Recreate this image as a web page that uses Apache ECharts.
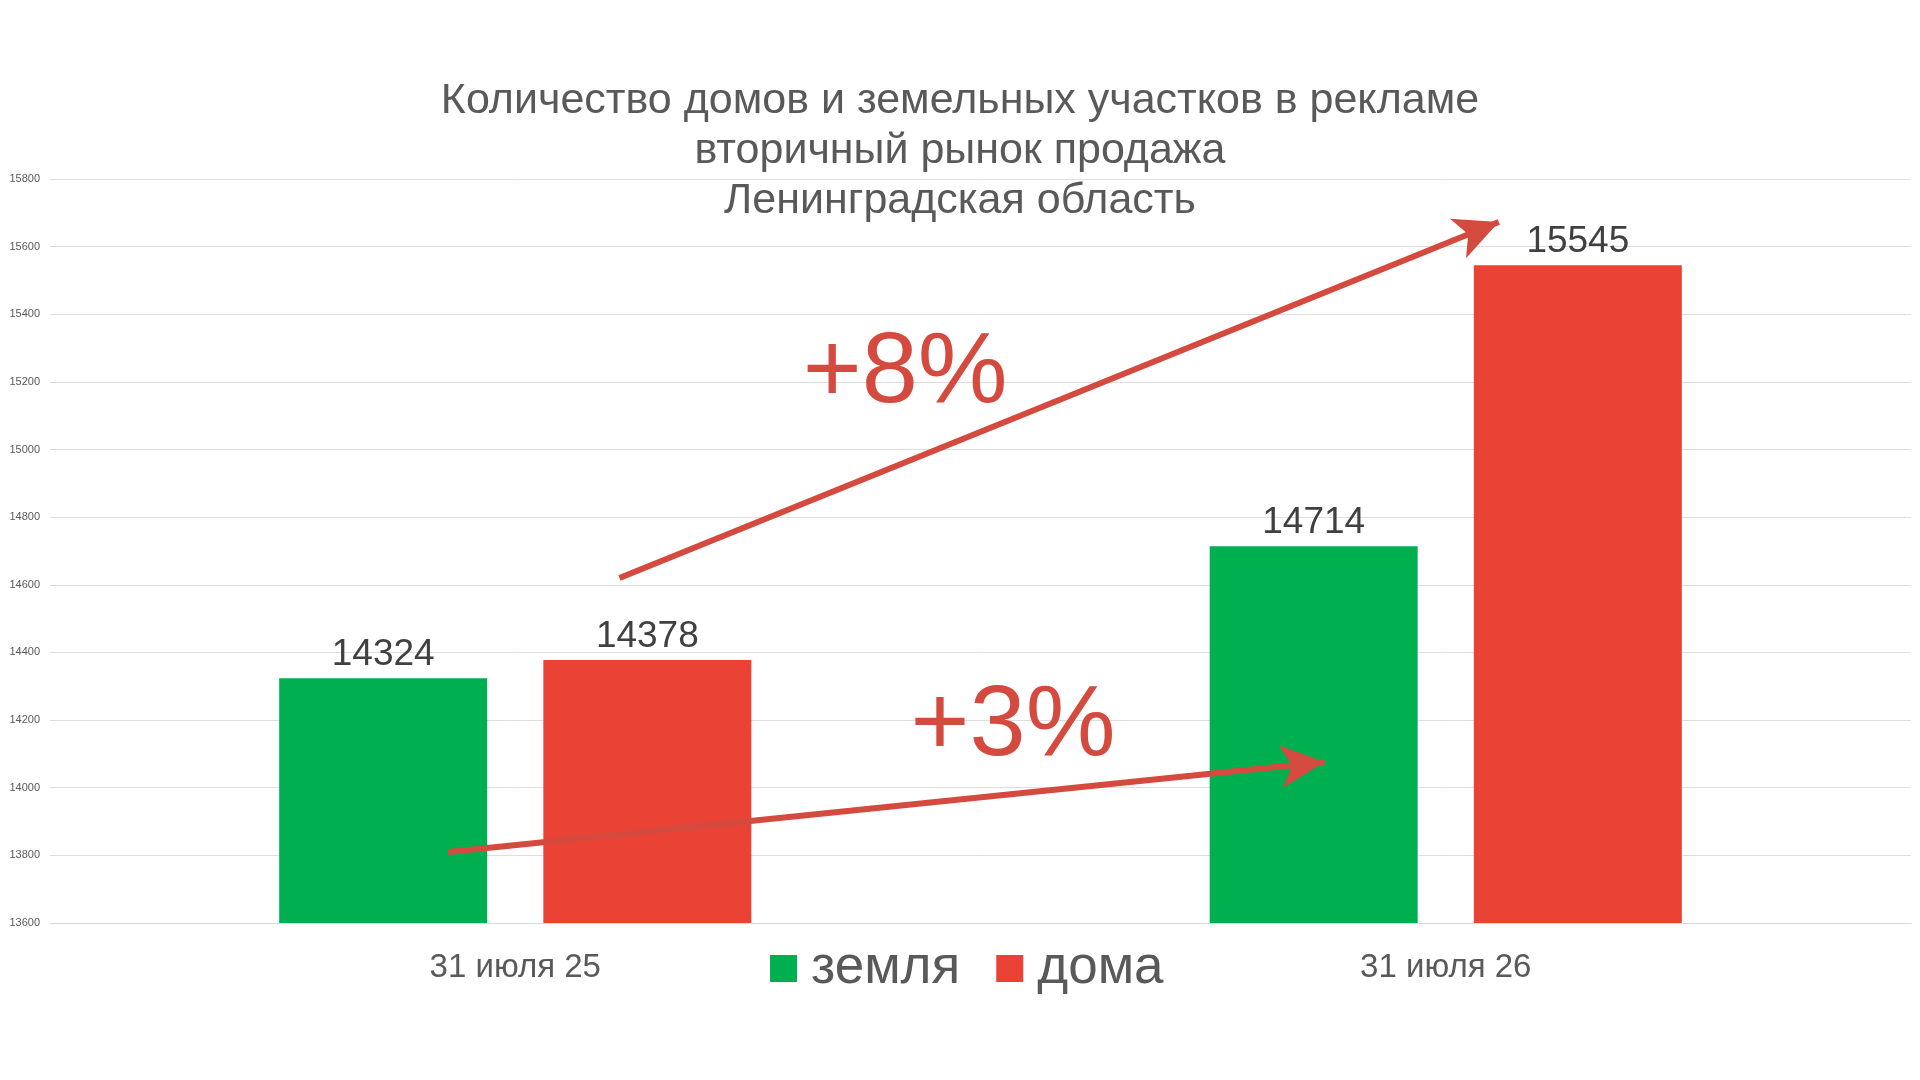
<!DOCTYPE html>
<html>
<head>
<meta charset="utf-8">
<script src="https://cdn.jsdelivr.net/npm/echarts@6/dist/echarts.min.js"></script>
<style>
html,body{margin:0;padding:0;background:#fff;}
#chart{width:1920px;height:1080px;}
</style>
</head>
<body>
<div id="chart"></div>
<script>
// ---- data ----
const titleLines = ['Количество домов и земельных участков в рекламе', 'вторичный рынок продажа', 'Ленинградская область'];
const categories = ['31 июля 25', '31 июля 26'];
const seriesNames = ['земля', 'дома'];
const landValues = [14324, 14714];
const houseValues = [14378, 15545];
const yMin = 13600, yMax = 15800, yStep = 200;
// annotation arrows in data coordinates: [categoryPosition, value]
const arrowHouses = [[0.112, 14620], [1.057, 15673]];
const arrowLand = [[-0.072, 13810], [0.870, 14076]];
const growthLabels = [
  { name: '+8%', coord: [0.419, 15222] },
  { name: '+3%', coord: [0.535, 14180] }
];

const FONT = 'Liberation Sans, Arial, sans-serif';
const GREY = '#595959';
const ARROW = '#d54a3e';

const chart = echarts.init(document.getElementById('chart'), null, { renderer: 'canvas' });
chart.setOption({
  animation: false,
  backgroundColor: '#ffffff',
  textStyle: { fontFamily: FONT },
  title: {
    text: titleLines.join('\n'),
    left: 'center',
    top: 71,
    textStyle: { fontFamily: FONT, fontSize: 43, fontWeight: 'normal', color: GREY, lineHeight: 50 }
  },
  legend: {
    data: seriesNames,
    left: 765,
    top: 937,
    icon: 'rect',
    itemWidth: 27,
    itemHeight: 27,
    itemGap: 36,
    textStyle: { fontFamily: FONT, fontSize: 53, color: GREY, padding: [0, 0, 0, 9] }
  },
  grid: { left: 50, right: 9, top: 179, bottom: 157, containLabel: false },
  xAxis: [
    {
      type: 'category',
      data: categories,
      axisLine: { lineStyle: { color: '#d9d9d9', width: 1 } },
      axisTick: { show: false },
      axisLabel: { fontFamily: FONT, fontSize: 33, color: GREY, margin: 28 }
    },
    { type: 'value', min: -0.5, max: 1.5, show: false }
  ],
  yAxis: {
    type: 'value',
    min: yMin,
    max: yMax,
    interval: yStep,
    axisLine: { show: false },
    axisTick: { show: false },
    axisLabel: { fontFamily: FONT, fontSize: 11, color: GREY, margin: 10, formatter: function (v) { return String(v); } },
    splitLine: { lineStyle: { color: '#dedede', width: 1 } }
  },
  series: [
    {
      name: seriesNames[0],
      type: 'bar',
      data: landValues,
      barWidth: 208,
      barGap: '27%',
      itemStyle: { color: '#00b050' },
      label: { show: true, position: 'top', distance: 5, fontFamily: FONT, fontSize: 37, color: '#404040' }
    },
    {
      name: seriesNames[1],
      type: 'bar',
      data: houseValues,
      barWidth: 208,
      barGap: '27%',
      itemStyle: { color: '#ea4335' },
      label: { show: true, position: 'top', distance: 5, fontFamily: FONT, fontSize: 37, color: '#404040' }
    },
    {
      name: 'annotations',
      type: 'line',
      xAxisIndex: 1,
      data: [],
      silent: true,
      markLine: {
        silent: true,
        symbol: ['none', 'arrow'],
        symbolSize: [32, 44],
        label: { show: false },
        lineStyle: { color: ARROW, width: 6, type: 'solid' },
        emphasis: { disabled: true },
        data: [
          [{ coord: arrowHouses[0] }, { coord: arrowHouses[1] }],
          [{ coord: arrowLand[0] }, { coord: arrowLand[1] }]
        ]
      },
      markPoint: {
        silent: true,
        symbol: 'rect',
        symbolSize: 1,
        itemStyle: { color: 'rgba(0,0,0,0)' },
        label: { show: true, position: 'inside', formatter: '{b}', fontFamily: FONT, fontSize: 101, color: ARROW },
        data: growthLabels
      }
    }
  ]
});
</script>
</body>
</html>
